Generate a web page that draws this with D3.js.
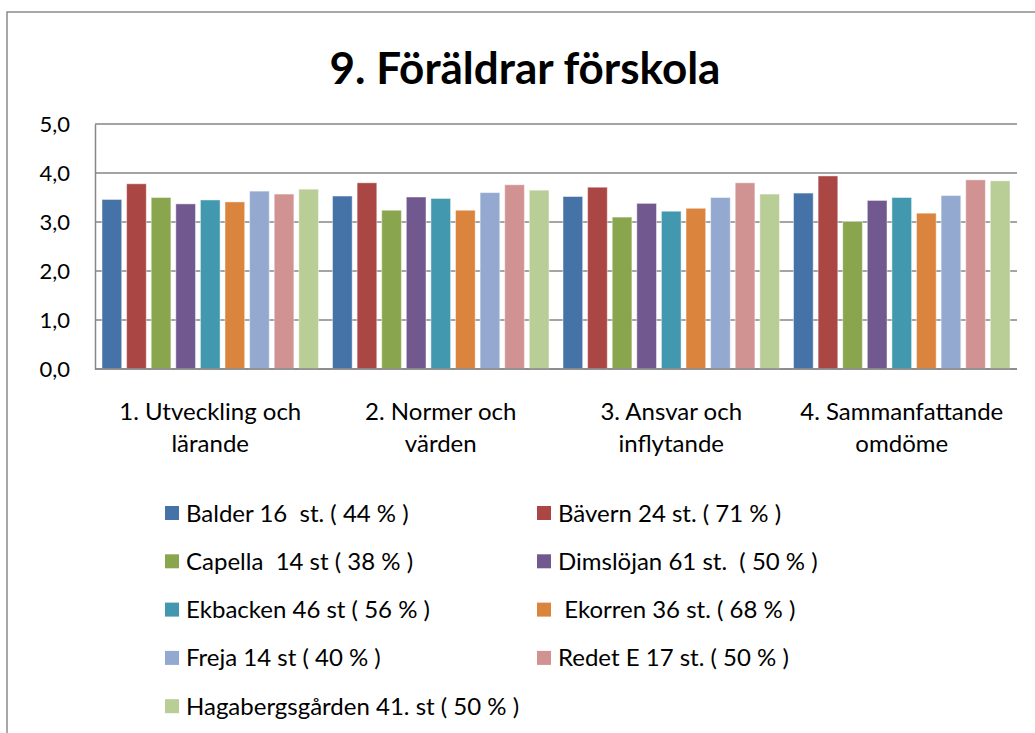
<!DOCTYPE html>
<html>
<head>
<meta charset="utf-8">
<script src="https://cdn.jsdelivr.net/npm/d3@7"></script>
<style>
  html, body { margin: 0; padding: 0; background: #fff; }
  svg text { font-family: Lato, "Open Sans", sans-serif; fill: #000; }
</style>
</head>
<body>
<svg id="chart" width="1035" height="733"></svg>
<script>
const title = "9. Föräldrar förskola";
const categories = [
  ["1. Utveckling och", "lärande"],
  ["2. Normer och", "värden"],
  ["3. Ansvar och", "inflytande"],
  ["4. Sammanfattande", "omdöme"]
];
const seriesNames = [
  "Balder 16  st. ( 44 % )",
  "Bävern 24 st. ( 71 % )",
  "Capella  14 st ( 38 % )",
  "Dimslöjan 61 st.  ( 50 % )",
  "Ekbacken 46 st ( 56 % )",
  " Ekorren 36 st. ( 68 % )",
  "Freja 14 st ( 40 % )",
  "Redet E 17 st. ( 50 % )",
  "Hagabergsgården 41. st ( 50 % )"
];
const colors = ["#4572A7", "#AA4643", "#89A54E", "#71588F", "#4198AF", "#DB843D", "#93A9CF", "#D19392", "#B9CD96"];
// values per series, in category order
const balder    = [3.46, 3.53, 3.52, 3.59];
const bavern    = [3.78, 3.80, 3.71, 3.94];
const capella   = [3.50, 3.24, 3.10, 3.01];
const dimslojan = [3.37, 3.51, 3.38, 3.44];
const ekbacken  = [3.45, 3.48, 3.22, 3.50];
const ekorren   = [3.41, 3.24, 3.28, 3.18];
const freja     = [3.63, 3.60, 3.50, 3.54];
const redet     = [3.57, 3.76, 3.80, 3.86];
const haga      = [3.67, 3.65, 3.57, 3.84];
const seriesValues = [balder, bavern, capella, dimslojan, ekbacken, ekorren, freja, redet, haga];
const yTicks = [0, 1, 2, 3, 4, 5];
const yTickLabels = ["0,0", "1,0", "2,0", "3,0", "4,0", "5,0"];

const svg = d3.select("#chart");
const gridColor = "#868686";

// outer frame (partially visible)
svg.append("path")
  .attr("d", "M7,733 L7,12 L1035,12")
  .attr("fill", "none").attr("stroke", "#8c8c8c").attr("stroke-width", 1.5);

// title
svg.append("text")
  .attr("x", 525).attr("y", 84)
  .attr("text-anchor", "middle")
  .attr("font-weight", "bold")
  .attr("font-size", 44)
  .text(title);

const plot = { left: 95, right: 1017, top: 124, bottom: 369 };
const y = d3.scaleLinear().domain([0, 5]).range([plot.bottom, plot.top]);
const catIdx = d3.range(categories.length);
const x0 = d3.scaleBand().domain(catIdx).range([plot.left, plot.right]).padding(0);
const x1 = d3.scaleBand().domain(d3.range(seriesNames.length))
  .range([0, x0.bandwidth()]).paddingInner(0.2).paddingOuter(0.285);

// gridlines
svg.append("g").selectAll("line").data(yTicks).join("line")
  .attr("x1", plot.left).attr("x2", plot.right)
  .attr("y1", d => y(d)).attr("y2", d => y(d))
  .attr("stroke", gridColor).attr("stroke-width", 1.5);

// y axis
const yAxis = d3.axisLeft(y).tickValues(yTicks).tickFormat((d, i) => yTickLabels[i]).tickSize(0).tickPadding(25);
const gy = svg.append("g").attr("transform", `translate(${plot.left},0)`).call(yAxis);
gy.select(".domain").attr("stroke", gridColor).attr("stroke-width", 1.5);
gy.selectAll("text").attr("font-size", 22).attr("font-family", "Lato, sans-serif").attr("fill", "#000");

// bars
const groups = svg.append("g").selectAll("g").data(catIdx).join("g")
  .attr("transform", c => `translate(${x0(c)},0)`);
groups.selectAll("rect")
  .data(c => seriesValues.map((vals, s) => ({ s, v: vals[c] })))
  .join("rect")
  .attr("x", d => x1(d.s))
  .attr("width", x1.bandwidth())
  .attr("y", d => y(d.v))
  .attr("height", d => y(0) - y(d.v))
  .attr("fill", d => colors[d.s])
  .attr("stroke", "rgba(255,255,255,0.45)")
  .attr("stroke-width", 1);

// redraw baseline on top
svg.append("line")
  .attr("x1", plot.left).attr("x2", plot.right)
  .attr("y1", y(0)).attr("y2", y(0))
  .attr("stroke", gridColor).attr("stroke-width", 1.5);

// category labels
const xl = svg.append("g").selectAll("text").data(catIdx).join("text")
  .attr("x", c => x0(c) + x0.bandwidth() / 2)
  .attr("y", 420)
  .attr("text-anchor", "middle")
  .attr("font-size", 24);
xl.selectAll("tspan").data(c => categories[c]).join("tspan")
  .attr("x", function () { return d3.select(this.parentNode).attr("x"); })
  .attr("dy", (d, i) => i === 0 ? 0 : 32)
  .text(d => d);

// legend
const legendCols = [165, 537];
const legendRow0 = 513, legendStep = 48.3;
const lg = svg.append("g").selectAll("g").data(seriesNames).join("g")
  .attr("transform", (d, i) => `translate(${legendCols[i % 2]},${legendRow0 + Math.floor(i / 2) * legendStep})`);
lg.append("rect").attr("x", 0).attr("y", -7).attr("width", 14).attr("height", 14)
  .attr("fill", (d, i) => colors[i]);
lg.append("text").attr("x", 21).attr("y", 8.5)
  .attr("font-size", 24)
  .attr("xml:space", "preserve")
  .style("white-space", "pre")
  .text(d => d);
</script>
</body>
</html>
